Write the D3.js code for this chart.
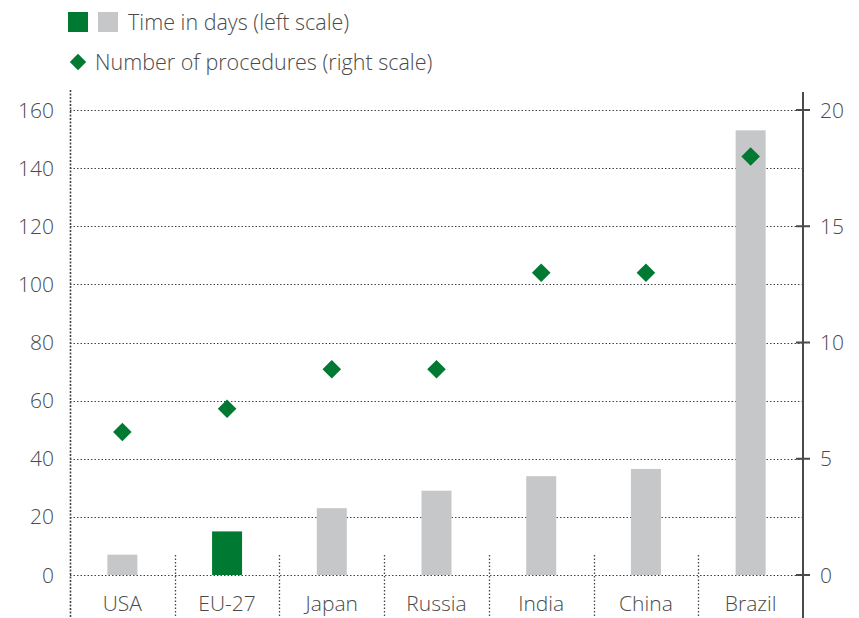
<!DOCTYPE html>
<html>
<head>
<meta charset="utf-8">
<script src="https://cdn.jsdelivr.net/npm/d3@7"></script>
<style>
  body { margin: 0; background: #fff; }
  text { font-family: "Open Sans", "Noto Sans", sans-serif; font-weight: 300; fill: #4a4a4a; }
</style>
</head>
<body>
<div id="chart"></div>
<script>
// data
const countries = ["USA", "EU-27", "Japan", "Russia", "India", "China", "Brazil"];
const days = [7, 15, 23, 29, 34, 36.5, 153];
const procedures = [6.15, 7.15, 8.85, 8.85, 13, 13, 18];
const leftTicks = [0, 20, 40, 60, 80, 100, 120, 140, 160];
const rightTicks = [0, 5, 10, 15, 20];
const highlight = "EU-27";

const width = 859, height = 618;
const margin = { top: 110, right: 56, bottom: 43, left: 70 };

const green = "#007a33", grey = "#c6c7c9";

const svg = d3.select("#chart").append("svg")
  .attr("width", width)
  .attr("height", height);

const x = d3.scaleBand()
  .domain(countries)
  .range([margin.left, width - margin.right])
  .paddingInner(0).paddingOuter(0);

const yL = d3.scaleLinear().domain([0, 160]).range([height - margin.bottom, margin.top]);
const yR = d3.scaleLinear().domain([0, 20]).range([height - margin.bottom, margin.top]);

const dotted = "1.5,2";

// gridlines
svg.append("g").selectAll("line")
  .data(leftTicks)
  .enter().append("line")
  .attr("x1", margin.left)
  .attr("x2", width - margin.right)
  .attr("y1", d => Math.round(yL(d)) + 0.5)
  .attr("y2", d => Math.round(yL(d)) + 0.5)
  .attr("stroke", "#444")
  .attr("stroke-width", 1)
  .attr("stroke-dasharray", dotted);

// left axis (dotted line)
svg.append("line")
  .attr("x1", margin.left + 0.5).attr("x2", margin.left + 0.5)
  .attr("y1", 90).attr("y2", height)
  .attr("stroke", "#444").attr("stroke-width", 1.6)
  .attr("stroke-dasharray", "2,1.5");

// category separators under the axis
svg.append("g").selectAll("line")
  .data(countries.slice(1))
  .enter().append("line")
  .attr("x1", d => Math.round(x(d)) + 0.5)
  .attr("x2", d => Math.round(x(d)) + 0.5)
  .attr("y1", yL(0) - 20).attr("y2", height)
  .attr("stroke", "#444").attr("stroke-width", 1.3)
  .attr("stroke-dasharray", "1.5,2");

// bars
const barW = 30;
svg.append("g").selectAll("rect")
  .data(countries)
  .enter().append("rect")
  .attr("x", d => x(d) + x.bandwidth() / 2 - barW / 2)
  .attr("y", (d, i) => yL(days[i]))
  .attr("width", barW)
  .attr("height", (d, i) => yL(0) - yL(days[i]))
  .attr("fill", d => d === highlight ? green : grey);

// diamonds
const diamond = d3.symbol().type(d3.symbolDiamond2).size(220);
svg.append("g").selectAll("path")
  .data(countries)
  .enter().append("path")
  .attr("d", diamond)
  .attr("transform", (d, i) => "translate(" + (x(d) + x.bandwidth() / 2) + "," + yR(procedures[i]) + ")")
  .attr("fill", green);

// left tick labels
svg.append("g").selectAll("text")
  .data(leftTicks)
  .enter().append("text")
  .attr("x", 54)
  .attr("y", d => yL(d))
  .attr("dy", "0.36em")
  .attr("text-anchor", "end")
  .style("font-size", "21px")
  .text(d => d);

// right axis
const rx = width - margin.right;
svg.append("line")
  .attr("x1", rx).attr("x2", rx)
  .attr("y1", 92).attr("y2", height)
  .attr("stroke", "#4a4a4a").attr("stroke-width", 2);

const rt = svg.append("g").selectAll("g")
  .data(rightTicks)
  .enter().append("g")
  .attr("transform", d => "translate(0," + yR(d) + ")");
rt.append("line")
  .attr("x1", rx - 7).attr("x2", rx + 7)
  .attr("stroke", "#4a4a4a").attr("stroke-width", 2);
rt.append("text")
  .attr("x", rx + 17)
  .attr("dy", "0.36em")
  .style("font-size", "21px")
  .text(d => d);

// category labels
svg.append("g").selectAll("text")
  .data(countries)
  .enter().append("text")
  .attr("x", d => x(d) + x.bandwidth() / 2)
  .attr("y", 611)
  .attr("text-anchor", "middle")
  .style("font-size", "21px")
  .text(d => d);

// legend
const lg = svg.append("g");
lg.append("rect").attr("x", 68).attr("y", 12).attr("width", 20).attr("height", 20).attr("fill", green);
lg.append("rect").attr("x", 98).attr("y", 12).attr("width", 20).attr("height", 20).attr("fill", grey);
lg.append("text").attr("x", 128).attr("y", 30).style("font-size", "21.5px").text("Time in days (left scale)");
lg.append("path").attr("d", d3.symbol().type(d3.symbolDiamond2).size(170))
  .attr("transform", "translate(78,62)").attr("fill", green);
lg.append("text").attr("x", 95).attr("y", 70).style("font-size", "21.5px").text("Number of procedures (right scale)");
</script>
</body>
</html>
